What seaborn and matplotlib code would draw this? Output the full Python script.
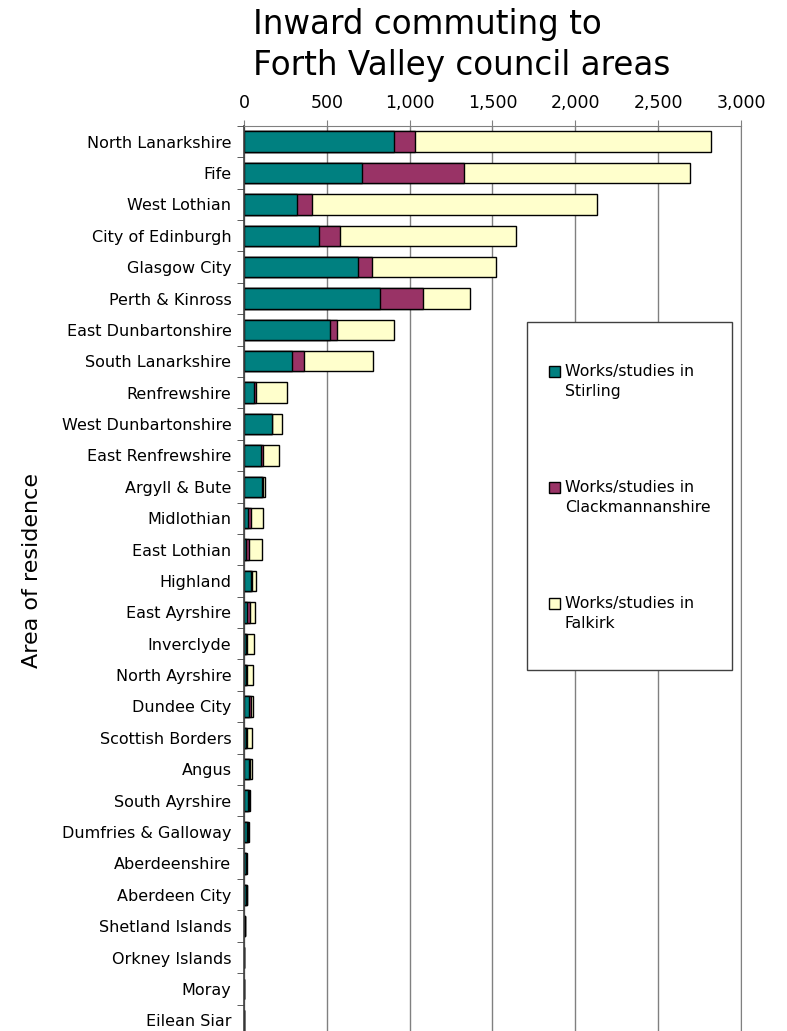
import matplotlib
matplotlib.use("Agg")
import matplotlib.pyplot as plt
from matplotlib.patches import Rectangle
from matplotlib.ticker import FuncFormatter
import numpy as np
import pandas as pd
import seaborn as sns

areas = ['North Lanarkshire', 'Fife', 'West Lothian', 'City of Edinburgh', 'Glasgow City',
         'Perth & Kinross', 'East Dunbartonshire', 'South Lanarkshire', 'Renfrewshire',
         'West Dunbartonshire', 'East Renfrewshire', 'Argyll & Bute', 'Midlothian',
         'East Lothian', 'Highland', 'East Ayrshire', 'Inverclyde', 'North Ayrshire',
         'Dundee City', 'Scottish Borders', 'Angus', 'South Ayrshire', 'Dumfries & Galloway',
         'Aberdeenshire', 'Aberdeen City', 'Shetland Islands', 'Orkney Islands', 'Moray',
         'Eilean Siar']
stirling = [905, 710, 323, 452, 691, 823, 518, 292, 58, 167, 101, 107, 26,
            14, 44, 20, 10, 10, 30, 10, 30, 24, 20, 10, 14, 4, 1, 1, 0]
clackmannanshire = [127, 617, 86, 127, 81, 260, 45, 69, 17, 3, 14, 5, 14,
                    16, 6, 14, 10, 8, 10, 8, 8, 4, 4, 3, 3, 1, 0, 0, 0]
falkirk = [1790, 1368, 1724, 1062, 752, 280, 342, 417, 183, 58, 97, 17, 77,
           77, 20, 30, 38, 38, 16, 32, 12, 6, 4, 5, 3, 1, 0, 0, 0]
series = ['Works/studies in\nStirling', 'Works/studies in\nClackmannanshire',
          'Works/studies in\nFalkirk']
colors = ['#008080', '#993366', '#FFFFCC']

df = pd.DataFrame({'area': areas, 'stirling': stirling,
                   'clack': clackmannanshire, 'falkirk': falkirk})
df['s_c'] = df['stirling'] + df['clack']
df['total'] = df['s_c'] + df['falkirk']

sns.set_style('white')
plt.rcParams['font.family'] = ['DejaVu Sans']
plt.rcParams['text.color'] = 'black'
plt.rcParams['xtick.color'] = 'black'
plt.rcParams['ytick.color'] = 'black'

fig = plt.figure(figsize=(7.87, 10.31), dpi=100)
ax = fig.add_axes([0.310, -0.00485, 0.6315, 0.8827])

# stacked bars drawn back to front from cumulative totals
for col, c in zip(['total', 's_c', 'stirling'], colors[::-1]):
    sns.barplot(data=df, x=col, y='area', orient='h', color=c, width=0.65,
                edgecolor='black', linewidth=1.0, saturation=1, ax=ax)

ax.set_xlim(0, 3000)
ax.set_ylim(len(areas) - 0.5, -0.5)
ax.set_xticks(np.arange(0, 3001, 500))
ax.xaxis.set_major_formatter(FuncFormatter(lambda v, p: f'{int(v):,}'))
ax.xaxis.tick_top()
ax.tick_params(axis='x', which='major', length=4, color='#808080', labelsize=12.5, pad=6)
ax.grid(axis='x', color='#808080', linewidth=1.0)
ax.set_axisbelow(True)

ax.set_yticks(np.arange(len(areas)))
ax.set_yticklabels(areas)
ax.set_yticks(np.arange(len(areas) + 1) - 0.5, minor=True)
ax.tick_params(axis='y', which='major', length=0, labelsize=11.5, pad=9)
ax.tick_params(axis='y', which='minor', length=5, color='#404040', left=True)
ax.set_xlabel('')
ax.set_ylabel('')

ax.spines['top'].set_color('#808080')
ax.spines['right'].set_color('#808080')
ax.spines['bottom'].set_visible(False)
ax.spines['left'].set_color('#404040')
ax.spines['left'].set_linewidth(1.2)

fig.text(253 / 787, 1 - 8 / 1031, 'Inward commuting to\nForth Valley council areas',
         fontsize=23.5, ha='left', va='top', linespacing=1.3)
fig.text(32 / 787, 1 - 570 / 1031, 'Area of residence', fontsize=16,
         rotation=90, ha='center', va='center')

# legend box with entries placed by hand so the swatch sits on the first line
fig.patches.append(Rectangle((527 / 787, 1 - 670 / 1031), 205 / 787, 348 / 1031,
                             transform=fig.transFigure, facecolor='white',
                             edgecolor='#404040', linewidth=1.0, zorder=5))
for i, (lab, c) in enumerate(zip(series, colors)):
    ytop = 365 + i * 116
    fig.patches.append(Rectangle((549 / 787, 1 - (ytop + 12) / 1031), 11 / 787, 11 / 1031,
                                 transform=fig.transFigure, facecolor=c,
                                 edgecolor='black', linewidth=1.0, zorder=6))
    fig.text(565 / 787, 1 - (ytop - 1) / 1031, lab, fontsize=11.3, ha='left', va='top',
             linespacing=1.45, zorder=7)

fig.savefig('out.png', dpi=100)
